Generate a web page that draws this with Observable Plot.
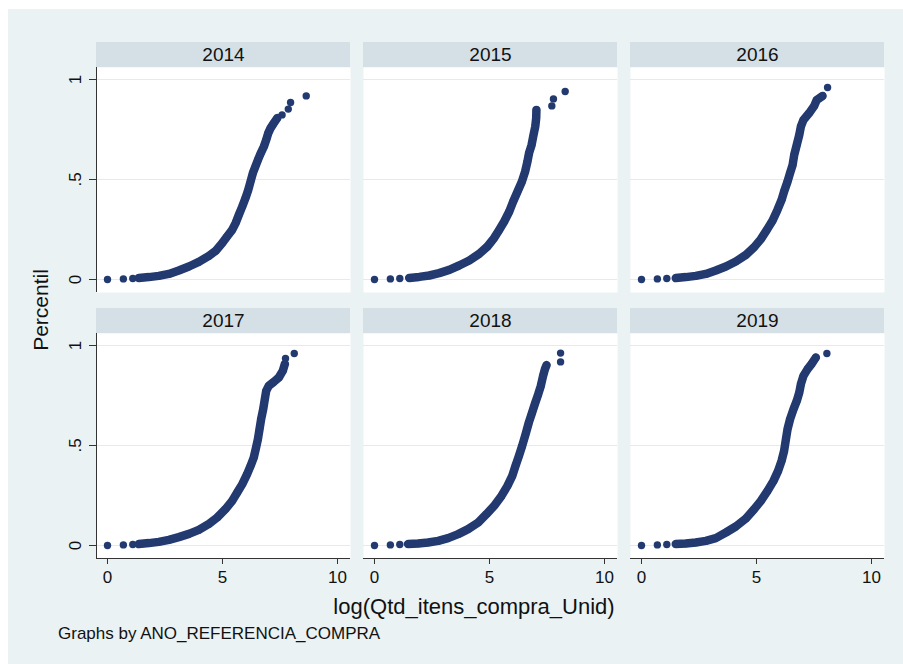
<!DOCTYPE html>
<html><head><meta charset="utf-8">
<script src="https://cdn.jsdelivr.net/npm/d3@7"></script>
<script src="https://cdn.jsdelivr.net/npm/@observablehq/plot@0.6"></script>
<style>
body{margin:0;background:#fff;font-family:"Liberation Sans",Arial,sans-serif;}
#wrap{position:relative;width:903px;height:664px;overflow:hidden}
#bg{position:absolute;left:8px;top:9px;right:0;bottom:0;background:#eaf2f3}
#chart{position:absolute;left:0;top:0}
.lab{position:absolute;color:#111;white-space:nowrap;line-height:1}
#ylab{left:40px;top:310px;font-size:21px;transform:translate(-50%,-50%) rotate(-90deg)}
#xlab{left:474px;top:607px;font-size:22px;transform:translate(-50%,-50%)}
#cap{left:58px;top:633px;font-size:17px;transform:translateY(-50%)}
</style></head><body>
<div id="wrap"><div id="bg"></div><div id="chart"></div>
<div class="lab" id="ylab">Percentil</div>
<div class="lab" id="xlab">log(Qtd_itens_compra_Unid)</div>
<div class="lab" id="cap">Graphs by ANO_REFERENCIA_COMPRA</div>
</div>
<script>
// ---- data: [log(qty), percentile] ----
const years = [2014, 2015, 2016, 2017, 2018, 2019];

const curve2014 = [[1.36,.008],[1.80,.012],[2.23,.018],[2.67,.028],[3.10,.045],[3.54,.065],[3.97,.088],[4.41,.118],[4.70,.143],[4.99,.182],[5.20,.215],[5.42,.248],[5.57,.282],[5.71,.323],[5.86,.365],[6.00,.407],[6.12,.448],[6.22,.49],[6.32,.532],[6.43,.565],[6.54,.598],[6.65,.628],[6.80,.665],[6.90,.698],[6.99,.732],[7.09,.757],[7.23,.782],[7.38,.807]];
const single2014 = [[0,0],[0.69,.003],[1.10,.005],[7.59,.823],[7.86,.852],[7.96,.885],[8.64,.918]];

const curve2015 = [[1.51,.008],[1.94,.013],[2.38,.02],[2.81,.032],[3.25,.048],[3.68,.07],[4.12,.095],[4.55,.128],[4.91,.165],[5.20,.207],[5.42,.248],[5.64,.29],[5.86,.34],[6.03,.39],[6.22,.44],[6.41,.49],[6.55,.54],[6.65,.59],[6.72,.632],[6.83,.673],[6.90,.715],[6.99,.765],[7.03,.807],[7.04,.848]];
const single2015 = [[0,0],[0.69,.003],[1.10,.005],[7.71,.868],[7.78,.903],[8.29,.94]];

const curve2016 = [[1.49,.007],[1.93,.012],[2.36,.018],[2.80,.028],[3.23,.045],[3.67,.065],[4.10,.09],[4.54,.123],[4.90,.162],[5.19,.202],[5.45,.248],[5.70,.295],[5.91,.348],[6.09,.398],[6.20,.44],[6.35,.49],[6.46,.532],[6.57,.573],[6.64,.623],[6.75,.673],[6.86,.723],[6.93,.765],[7.04,.798],[7.29,.832],[7.51,.868],[7.62,.898],[7.87,.918]];
const single2016 = [[0,0],[0.69,.003],[1.10,.005],[8.09,.96]];

const curve2017 = [[1.36,.007],[1.80,.012],[2.23,.018],[2.67,.028],[3.10,.042],[3.54,.058],[3.97,.078],[4.41,.108],[4.77,.14],[5.13,.182],[5.42,.223],[5.64,.265],[5.86,.307],[6.07,.357],[6.22,.398],[6.36,.44],[6.46,.49],[6.54,.532],[6.61,.582],[6.68,.632],[6.77,.682],[6.84,.732],[6.90,.773],[7.01,.798],[7.23,.818],[7.45,.84],[7.62,.873],[7.71,.907]];
const single2017 = [[0,0],[0.69,.003],[1.10,.005],[7.74,.935],[8.12,.96]];

const curve2018 = [[1.46,.007],[1.90,.01],[2.33,.015],[2.77,.023],[3.20,.037],[3.64,.057],[4.07,.082],[4.51,.115],[4.87,.157],[5.23,.202],[5.52,.248],[5.78,.298],[5.99,.348],[6.13,.398],[6.28,.448],[6.42,.498],[6.57,.557],[6.71,.615],[6.83,.657],[6.97,.707],[7.12,.757],[7.23,.798],[7.33,.848],[7.41,.882],[7.48,.902]];
const single2018 = [[0,0],[0.69,.003],[1.10,.005],[8.09,.918],[8.09,.962]];

const curve2019 = [[1.49,.007],[1.93,.01],[2.36,.015],[2.80,.023],[3.23,.037],[3.67,.065],[4.10,.095],[4.54,.135],[4.90,.182],[5.19,.223],[5.48,.273],[5.74,.323],[5.94,.373],[6.09,.423],[6.20,.473],[6.28,.532],[6.35,.582],[6.46,.632],[6.61,.682],[6.75,.723],[6.86,.765],[6.93,.807],[7.04,.848],[7.22,.882],[7.39,.907],[7.58,.94]];
const single2019 = [[0,0],[0.69,.003],[1.10,.005],[8.06,.96]];

const xTicks = [0, 5, 10];
const yTicks = [0, 0.5, 1];
const yTickLabels = ["0", ".5", "1"];

// ---- build tables ----
const curves = [curve2014, curve2015, curve2016, curve2017, curve2018, curve2019];
const singles = [single2014, single2015, single2016, single2017, single2018, single2019];
const panels = years.map((year, i) => ({year: String(year), col: i % 3, row: Math.floor(i / 3)}));
const curveRows = [], dotRows = [];
panels.forEach((p, i) => {
  curves[i].forEach(([x, y]) => { curveRows.push({...p, x, y}); dotRows.push({...p, x, y}); });
  singles[i].forEach(([x, y]) => dotRows.push({...p, x, y}));
});

const X_DOMAIN = [-0.478, 10.565];
const Y_DOMAIN = [-0.065, 1.06];
const STRIP_TOP = 1.185;
const NAVY = "#233a70";
const AXIS = "#333";

const chart = Plot.plot({
  width: 903, height: 664,
  marginLeft: 96, marginRight: 19, marginTop: 67, marginBottom: 106,
  style: {background: "transparent", fontFamily: "'Liberation Sans', Arial, sans-serif", color: "#111", overflow: "visible"},
  x: {domain: X_DOMAIN, axis: null},
  y: {domain: Y_DOMAIN, axis: null},
  fx: {domain: [0, 1, 2], paddingInner: 13 / 267, paddingOuter: 0, round: false, axis: null},
  fy: {domain: [0, 1], paddingInner: 41 / 266, paddingOuter: 0, round: false, axis: null},
  marks: [
    Plot.frame({fill: "white", stroke: null}),
    Plot.ruleY(yTicks, {stroke: "#e4eaed", strokeWidth: 1}),
    Plot.rect(panels, {fx: "col", fy: "row", x1: () => X_DOMAIN[0], x2: () => X_DOMAIN[1], y1: () => Y_DOMAIN[1], y2: () => STRIP_TOP, fill: "#d4dfe6", clip: false}),
    Plot.text(panels, {fx: "col", fy: "row", text: "year", frameAnchor: "top", lineAnchor: "middle", dy: -12.5, fontSize: 19, fill: "#111"}),
    Plot.ruleX(panels.filter(p => p.col === 0), {fx: "col", fy: "row", x: () => X_DOMAIN[0], stroke: AXIS}),
    Plot.ruleY(panels.filter(p => p.row === 1), {fx: "col", fy: "row", y: () => Y_DOMAIN[0], stroke: AXIS}),
    Plot.axisY({ticks: yTicks, tickFormat: d => yTickLabels[yTicks.indexOf(d)], tickRotate: -90, tickSize: 7, tickPadding: 9, fontSize: 17, label: null, stroke: AXIS}),
    Plot.axisX({ticks: xTicks, tickSize: 6, tickPadding: 6, fontSize: 17, label: null, stroke: AXIS}),
    Plot.line(curveRows, {fx: "col", fy: "row", x: "x", y: "y", z: "year", stroke: NAVY, strokeWidth: 8.5, strokeLinecap: "round", strokeLinejoin: "round"}),
    Plot.dot(dotRows, {fx: "col", fy: "row", x: "x", y: "y", r: 3.7, fill: NAVY, stroke: null})
  ]
});
document.getElementById("chart").append(chart);
</script>
</body></html>
